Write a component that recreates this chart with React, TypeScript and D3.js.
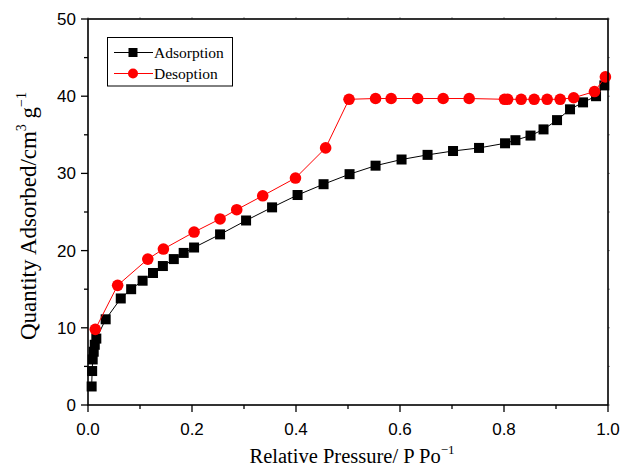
import React from "react";
import * as d3 from "d3";

const adsP = [0.007, 0.008, 0.009, 0.011, 0.013, 0.016, 0.034, 0.063, 0.083, 0.105, 0.125, 0.144, 0.165, 0.184, 0.204, 0.254, 0.304, 0.354, 0.403, 0.453, 0.503, 0.553, 0.603, 0.653, 0.702, 0.752, 0.802, 0.822, 0.851, 0.876, 0.902, 0.927, 0.952, 0.977, 0.993];
const adsQ = [2.4, 4.4, 5.9, 6.9, 7.8, 8.6, 11.1, 13.8, 15.0, 16.1, 17.1, 18.0, 18.9, 19.7, 20.4, 22.1, 23.9, 25.6, 27.2, 28.6, 29.9, 31.0, 31.8, 32.4, 32.9, 33.3, 33.9, 34.3, 34.9, 35.7, 36.9, 38.3, 39.2, 40.0, 41.4];

const desP = [0.995, 0.974, 0.934, 0.908, 0.883, 0.858, 0.833, 0.807, 0.801, 0.733, 0.683, 0.634, 0.583, 0.553, 0.502, 0.457, 0.399, 0.336, 0.286, 0.254, 0.204, 0.145, 0.115, 0.057, 0.014];
const desQ = [42.5, 40.6, 39.8, 39.6, 39.6, 39.6, 39.6, 39.6, 39.6, 39.7, 39.7, 39.7, 39.7, 39.7, 39.6, 33.3, 29.4, 27.1, 25.3, 24.1, 22.4, 20.2, 18.9, 15.5, 9.8];

const xTicks = [0, 0.2, 0.4, 0.6, 0.8, 1.0];
const xMinor = [0.1, 0.3, 0.5, 0.7, 0.9];
const yTicks = [0, 10, 20, 30, 40, 50];
const yMinor = [5, 15, 25, 35, 45];

export default function App() {
  const W = 625, H = 469;
  const L = 88, R = 608, T = 19, B = 405;
  const x = d3.scaleLinear().domain([0, 1]).range([L, R]);
  const y = d3.scaleLinear().domain([0, 50]).range([B, T]);
  const ads = adsP.map((p, i) => [p, adsQ[i]] as [number, number]);
  const des = desP.map((p, i) => [p, desQ[i]] as [number, number]);
  const line = d3.line<[number, number]>().x(d => x(d[0])).y(d => y(d[1]));
  const sans = "'Liberation Sans', Arial, sans-serif";
  const serif = "'Liberation Serif', 'Times New Roman', serif";
  const sq = 10;
  return (
    <svg width={W} height={H} style={{ position: "absolute", left: 0, top: 0, background: "#fff" }}>
      <rect x={0} y={0} width={W} height={H} fill="#fff" />
      <defs>
        <clipPath id="clip"><rect x={L - 8} y={T - 8} width={R - L + 16} height={B - T + 16} /></clipPath>
      </defs>
      {/* ticks */}
      {xTicks.map(t => <line key={"xt" + t} x1={x(t)} x2={x(t)} y1={B} y2={B + 7} stroke="#000" strokeWidth={1.3} />)}
      {xMinor.map(t => <line key={"xm" + t} x1={x(t)} x2={x(t)} y1={B} y2={B + 4} stroke="#000" strokeWidth={1.3} />)}
      {yTicks.map(t => <line key={"yt" + t} x1={L - 7} x2={L} y1={y(t)} y2={y(t)} stroke="#000" strokeWidth={1.3} />)}
      {yMinor.map(t => <line key={"ym" + t} x1={L - 4} x2={L} y1={y(t)} y2={y(t)} stroke="#000" strokeWidth={1.3} />)}
      {xTicks.concat(xMinor).map(t => <line key={"xtt" + t} x1={x(t)} x2={x(t)} y1={T} y2={T - 2} stroke="#999" strokeWidth={1} />)}
      {yTicks.concat(yMinor).map(t => <line key={"ytr" + t} x1={R} x2={R + 2} y1={y(t)} y2={y(t)} stroke="#999" strokeWidth={1} />)}
      {xTicks.map(t => (
        <text key={"xl" + t} x={x(t)} y={B + 30} textAnchor="middle" fontFamily={sans} fontSize={17} fill="#000">{t.toFixed(1)}</text>
      ))}
      {yTicks.map(t => (
        <text key={"yl" + t} x={L - 12} y={y(t) + 6} textAnchor="end" fontFamily={sans} fontSize={17} fill="#000">{t}</text>
      ))}
      {/* data */}
      <g clipPath="url(#clip)">
        <path d={line(ads) || ""} fill="none" stroke="#000" strokeWidth={1} />
        {ads.map((d, i) => (
          <rect key={"a" + i} x={x(d[0]) - sq / 2} y={y(d[1]) - sq / 2} width={sq} height={sq} fill="#000" />
        ))}
        <path d={line(des) || ""} fill="none" stroke="#ff0000" strokeWidth={1} />
        {des.map((d, i) => (
          <circle key={"d" + i} cx={x(d[0])} cy={y(d[1])} r={5.8} fill="#ff0000" />
        ))}
      </g>
      {/* frame */}
      <rect x={L} y={T} width={R - L} height={B - T} fill="none" stroke="#000" strokeWidth={1.6} />
      {/* legend */}
      <rect x={107.5} y={37.5} width={125} height={48.5} fill="#fff" stroke="#000" strokeWidth={1} />
      <line x1={114} x2={153} y1={52.5} y2={52.5} stroke="#000" strokeWidth={1} />
      <rect x={133 - 4.5} y={52.5 - 4.5} width={9} height={9} fill="#000" />
      <text x={154} y={58} fontFamily={serif} fontSize={15.5} fill="#000">Adsorption</text>
      <line x1={114} x2={153} y1={73.5} y2={73.5} stroke="#ff0000" strokeWidth={1} />
      <circle cx={133} cy={73.5} r={5} fill="#ff0000" />
      <text x={154} y={79} fontFamily={serif} fontSize={15.5} fill="#000">Desoption</text>
      {/* axis titles */}
      <text x={352} y={463} textAnchor="middle" fontFamily={serif} fontSize={20.5} fill="#000">
        Relative Pressure/ P Po<tspan fontSize={13} dy={-9}>−1</tspan>
      </text>
      <text transform={`translate(36, 216) rotate(-90)`} textAnchor="middle" fontFamily={serif} fontSize={23} fill="#000">
        Quantity Adsorbed/cm<tspan fontSize={14} dy={-10}>3</tspan><tspan dy={10}> g</tspan><tspan fontSize={14} dy={-10}>−1</tspan>
      </text>
    </svg>
  );
}
